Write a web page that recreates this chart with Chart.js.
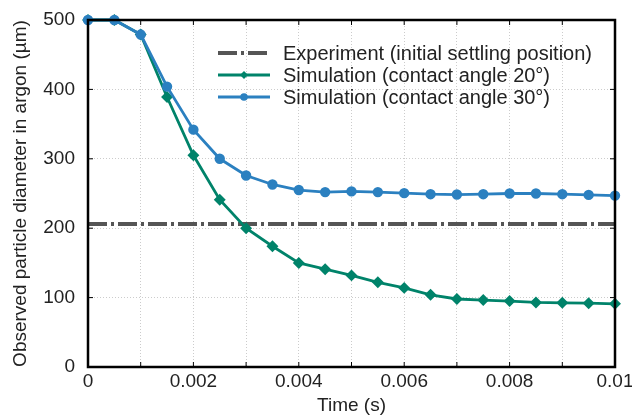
<!DOCTYPE html>
<html><head><meta charset="utf-8">
<script src="https://cdn.jsdelivr.net/npm/chart.js@4.4.1/dist/chart.umd.min.js"></script>
<style>html,body{margin:0;padding:0;background:#fff}#wrap{width:632px;height:417px}</style>
</head><body><div id="wrap"><canvas id="c" width="632" height="417"></canvas></div>
<script>
const times = [0,0.0005,0.001,0.0015,0.002,0.0025,0.003,0.0035,0.004,0.0045,0.005,0.0055,0.006,0.0065,0.007,0.0075,0.008,0.0085,0.009,0.0095,0.01];
const sim20 = [500,500,479,389,305,241,200,174,150,141,132,122,114,104,98,96.5,95,93,92.5,92,91];
const sim30 = [500,500,479,404,342,300,276,263,255,252,253,252,250.5,249,248.5,249,250,250,249,248,247];
const experimentValue = 206;
const expX = [0, 0.01];
const labels = ["Experiment (initial settling position)","Simulation (contact angle 20°)","Simulation (contact angle 30°)"];
const xTitle = "Time (s)";
const yTitle = "Observed particle diameter in argon (µm)";

const FONT = "'Liberation Sans', Arial, sans-serif";
const green = '#00836a', blue = '#2b80c0', gray = '#555555';

const framePlugin = {
  id:'frame',
  afterDatasetsDraw(chart){
    const {ctx, chartArea:a, scales:{x,y}} = chart;
    ctx.save();
    ctx.strokeStyle='#000'; ctx.lineWidth=1;
    for(let v=0; v<=0.01+1e-9; v+=0.001){
      const px = x.getPixelForValue(v);
      ctx.beginPath(); ctx.moveTo(px,a.bottom); ctx.lineTo(px,a.bottom-5); ctx.stroke();
      ctx.beginPath(); ctx.moveTo(px,a.top); ctx.lineTo(px,a.top+5); ctx.stroke();
    }
    for(let v=0; v<=500; v+=100){
      const py = y.getPixelForValue(v);
      ctx.beginPath(); ctx.moveTo(a.left,py); ctx.lineTo(a.left+5,py); ctx.stroke();
      ctx.beginPath(); ctx.moveTo(a.right,py); ctx.lineTo(a.right-5,py); ctx.stroke();
    }
    ctx.lineWidth=2.5; ctx.strokeStyle='#000';
    ctx.strokeRect(a.left, a.top, a.right-a.left, a.bottom-a.top);
    const ds = chart.data.datasets;
    const lx0 = a.left + 130, lx1 = a.left + 182, tx = a.left + 195;
    const rows = [a.top+33, a.top+55, a.top+77];
    ctx.font = "20px " + FONT; ctx.textBaseline='middle';
    [0,1,2].forEach((i,k)=>{
      const d = ds[i]; const ry = rows[k];
      ctx.save();
      ctx.strokeStyle = d.borderColor; ctx.lineWidth = d.borderWidth;
      ctx.setLineDash(d.borderDash || []);
      ctx.beginPath(); ctx.moveTo(lx0,ry); ctx.lineTo(lx1,ry); ctx.stroke();
      ctx.restore();
      if(d.pointRadius){
        ctx.save(); ctx.fillStyle=d.pointBackgroundColor;
        const mx=(lx0+lx1)/2, r=d.pointRadius;
        ctx.beginPath();
        if(d.pointStyle==='rectRot'){ ctx.moveTo(mx,ry-r); ctx.lineTo(mx+r,ry); ctx.lineTo(mx,ry+r); ctx.lineTo(mx-r,ry); ctx.closePath(); }
        else ctx.arc(mx,ry,r,0,Math.PI*2);
        ctx.fill(); ctx.restore();
      }
      ctx.fillStyle='#222';
      ctx.fillText(d.label, tx, ry+1);
    });
    ctx.restore();
  }
};

new Chart(document.getElementById('c'), {
  type:'line',
  data:{datasets:[
    {label:labels[0], data:expX.map(t=>({x:t,y:experimentValue})), borderColor:gray, borderWidth:4, borderDash:[19,4,3,4], pointRadius:0, order:3},
    {label:labels[1], data:times.map((t,i)=>({x:t,y:sim20[i]})), borderColor:green, backgroundColor:green, pointBackgroundColor:green, pointBorderColor:green, borderWidth:2.8, pointRadius:4, pointStyle:'rectRot', order:2},
    {label:labels[2], data:times.map((t,i)=>({x:t,y:sim30[i]})), borderColor:blue, backgroundColor:blue, pointBackgroundColor:blue, pointBorderColor:blue, borderWidth:2.8, pointRadius:3.8, pointStyle:'circle', order:1}
  ]},
  options:{
    responsive:false, animation:false, clip:false,
    layout:{padding:{top:20,right:17,left:0,bottom:0}},
    plugins:{legend:{display:false}, tooltip:{enabled:false}},
    scales:{
      x:{type:'linear', min:0, max:0.01,
        afterFit(s){ s.height = 50; s.paddingRight = 0; s.paddingLeft = 0; },
        afterBuildTicks(s){ s.ticks = []; for(let k=0;k<=10;k++) s.ticks.push({value:+(k*0.001).toFixed(4)}); },
        ticks:{autoSkip:false, maxRotation:0, padding:3, color:'#222', font:{family:FONT,size:19},
          callback(v,i){ return i%2===0 ? String(+v.toFixed(4)) : ''; }},
        grid:{color:'#cccccc', drawTicks:false, lineWidth:1},
        border:{display:false, dash:[1,2]},
        title:{display:true, text:xTitle, color:'#222', font:{family:FONT,size:19}, padding:{top:0,bottom:0}}
      },
      y:{min:0, max:500,
        afterFit(s){ s.width = 88; s.paddingTop = 0; s.paddingBottom = 0; },
        ticks:{stepSize:100, padding:13, color:'#222', font:{family:FONT,size:19}},
        grid:{color:'#cccccc', drawTicks:false, lineWidth:1},
        border:{display:false, dash:[1,2]},
        title:{display:true, text:yTitle, color:'#222', font:{family:FONT,size:19}, padding:{top:9,bottom:0}}
      }
    }
  },
  plugins:[framePlugin]
});
</script></body></html>
